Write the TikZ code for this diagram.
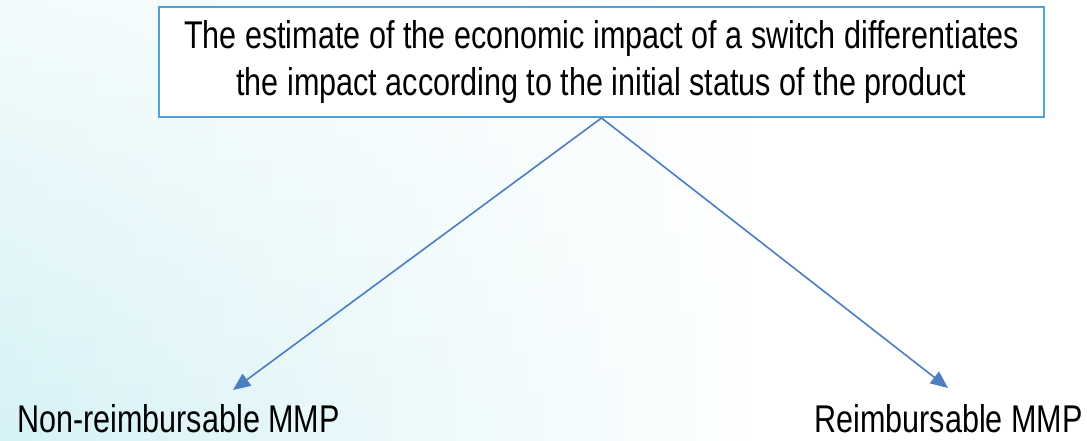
\documentclass[tikz,border=0pt]{standalone}
\usepackage{fontspec}
\setmainfont{Liberation Sans}[FakeStretch=0.79]
\usetikzlibrary{arrows.meta,positioning,fadings}
\usepackage{xcolor}
\definecolor{bgcyan}{HTML}{D6F2F6}
\definecolor{frame}{HTML}{4DA3D4}
\definecolor{link}{HTML}{4A7EC0}

\begin{document}
\begin{tikzpicture}[x=0.75pt,y=-0.75pt,
  statusbox/.style={draw=frame, line width=1.5pt, fill=white, minimum width=664pt, minimum height=82.5pt, align=center, inner sep=0pt},
  outcome/.style={inner sep=0pt},
  branch/.style={draw=link, line width=1.2pt, -{Triangle[length=13pt,width=11pt]}},
  font=\fontsize{29}{35}\selectfont]
% background
\useasboundingbox (0,0) rectangle (1087,441);
\shade[left color=bgcyan, right color=white] (0,0) rectangle (780,441);
\fill[white] (779,0) rectangle (1087,441);
\fill[white, path fading=south, fill opacity=0.7] (0,0) rectangle (780,441);

\node[statusbox] (estimate) at (601.5,62) {The estimate of the economic impact of a switch differentiates\\the impact according to the initial status of the product};

\node[outcome, anchor=base west] (nonreimb) at (17,432) {Non-reimbursable MMP};
\node[outcome, anchor=base east] (reimb) at (1083,432) {Reimbursable MMP};

\coordinate (tipL) at (233,390);
\coordinate (tipR) at (948,388);
\draw[branch] (estimate.south) -- (tipL);
\draw[branch] (estimate.south) -- (tipR);
\end{tikzpicture}
\end{document}
